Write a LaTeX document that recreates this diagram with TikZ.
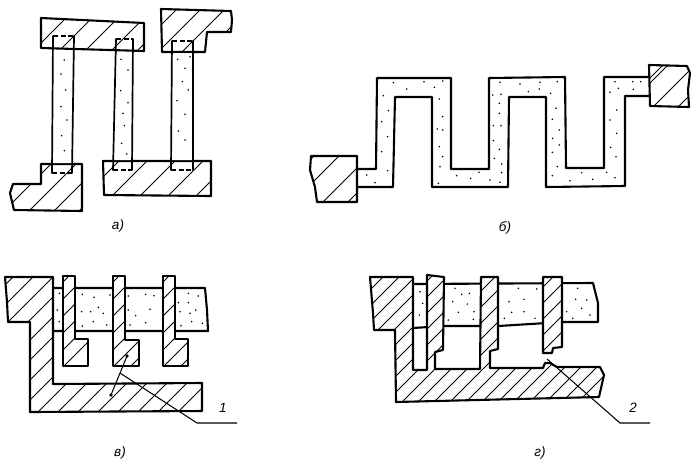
\documentclass[tikz,border=0pt]{standalone}
\usepackage{fontspec}
\setmainfont{Liberation Sans}
\tikzset{
  outline/.style={line width=2.1pt,line join=round,line cap=round},
  thinline/.style={line width=1.7pt,line join=round,line cap=round},
  hatchline/.style={line width=0.9pt},
  leader/.style={line width=1.05pt},
  dashpart/.style={line width=2pt,dash pattern=on 5pt off 2.5pt},
  lab/.style={font=\itshape\fontsize{13.5}{15}\selectfont,inner sep=0pt}
}
\newcommand\hatchpath[2]{%
  \fill[white] #1;
  \begin{scope}\clip #1;
    \foreach \c in {#2} \draw[hatchline] (\c,0)--(0,\c);
  \end{scope}
  \draw[outline] #1;}
\newcommand\stip[3]{\foreach \px/\py in {#3} \fill ({#1+\px/3},{#2+\py/3}) circle (0.85pt);}
\begin{document}
\begin{tikzpicture}[x=1pt,y=-1pt]
\useasboundingbox (0,0) rectangle (698,467);
\fill[white] (0,0) rectangle (698,467);
% --- panel a
\hatchpath{(41,18)--(144,23)--(144,51)--(41,48)--cycle}{84,110,136,162,188}
\hatchpath{(161,9)--(231,11)--(232,20)--(231,32)--(207,32)--(205,52)--(162,52)--cycle}{186,210,234,258}
\hatchpath{(41,164)--(82,164)--(82,211)--(14,210)--(10,193)--(13,184)--(41,184)--cycle}{215,240,265,290}
\hatchpath{(103,161)--(211,161)--(211,196)--(104,195)--cycle}{280,308,336,364,392}
\fill[white] (53,50)--(74,50)--(72,163)--(52,163)--cycle;
\fill[white] (116,52)--(133,52)--(132,160)--(113,160)--cycle;
\fill[white] (172,53)--(193,53)--(193,160)--(171,160)--cycle;
\draw[thinline] (53,36)--(52,173) (74,36)--(72,173);
\draw[thinline] (116,39)--(113,170) (133,39)--(132,170);
\draw[thinline] (172,41)--(171,170) (193,41)--(193,170);
\draw[dashpart] (53,36)--(74,36) (52,173)--(72,173);
\draw[dashpart] (116,39)--(133,39) (113,170)--(132,170);
\draw[dashpart] (172,41)--(193,41) (171,170)--(193,170);
\stip{0}{0}{193/180,183/222,197/270,183/320,201/360,185/407,193/452,363/178,384/210,362/272,384/308,369/340,373/377,365/430,380/462,533/178,570/170,555/205,547/245,565/270,531/302,555/343,535/393,555/420}
\node[lab] (la) at (118,226) {а)};
% --- panel b
\hatchpath{(311,156)--(357,156)--(357,202)--(317,202)--(315,187)--(310,170)--cycle}{470,495,525,550}
\hatchpath{(649,65)--(687,66)--(690,73)--(688,90)--(689,107)--(650,106)--cycle}{728,733,760,785}
\draw[outline] (357,169)--(376,169)--(377,78)--(451,78)--(451,169)--(489,169)--(489,78)--(565,77)--(566,168)--(604,168)--(604,77)--(649,77);
\draw[outline] (357,187)--(393,187)--(395,97)--(432,97)--(432,187)--(508,187)--(509,97)--(546,97)--(546,187)--(625,186)--(625,96)--(649,96);
\stip{300}{50}{280/98,372/95,403/112,428/93,320/117,250/137,418/147,265/182,428/200,245/215,412/237,428/240,263/260,418/290,245/305,428/320,263/362,420/350,200/375,225/398,415/400,470/377,512/385,537/367,570/390,605/342,605/368,600/397,600/97,660/102,720/97,772/95,718/117,685/125,752/130,578/135,603/133,598/160,598/190,580/227,603/227,580/272,598/298,583/325,768/175,757/208,778/240,758/265,778/285,757/307,772/350,757/377,810/392,845/368,878/388,920/367,945/383,945/95,998/95,1022/95,955/115,1000/118,930/127,950/180,930/210,950/250,932/292,948/320}
\node[lab] (lb) at (505,228) {б)};
% --- panel v
\draw[outline] (53,288)--(205,288)--(207,310)--(208,331)--(53,331);
\stip{0}{260}{178/100,172/150,178/185,247/103,282/112,330/105,245/155,272/155,310/160,295/142,247/198,280/185,320/195,385/108,437/103,462/107,450/148,385/150,407/167,390/195,437/188,565/100,595/108,535/128,565/128,587/150,540/155,570/160,607/190,543/197,575/185}
\hatchpath{(5,277)--(53,277)--(53,384)--(202,383)--(202,411)--(30,412)--(30,322)--(8,322)--(7,302)--cycle}{290,310,330,350,370,390,410,430,450,470,490,510,530,550,570,590}
\hatchpath{(63,276)--(75,276)--(75,339)--(88,339)--(88,366)--(63,366)--cycle}{345,362,379,396,413,430}
\hatchpath{(113,276)--(125,276)--(125,340)--(139,340)--(139,366)--(113,366)--cycle}{395,412,429,446,463,480,497}
\hatchpath{(163,276)--(175,276)--(175,339)--(188,339)--(188,366)--(163,366)--cycle}{445,462,479,496,513,530,547}
\coordinate (v1) at (127,356);
\coordinate (v2) at (111,395);
\draw[leader] (v1)--(v2);
\fill (v1) circle (1.8pt) (v2) circle (1.8pt);
\coordinate (v3) at (120,373);
\coordinate (v4) at (197,423);
\coordinate (v5) at (237,423);
\draw[leader] (v3)--(v4)--(v5);
\node[lab] (n1) at (223,408) {1};
\node[lab] (lv) at (120,453) {в)};
% --- panel g
\draw[outline] (413,284)--(593,283)--(598,303)--(598,322)--(563,322)--(498,326)--(444,326)--(413,328);
\stip{350}{260}{210/95,218/130,208/165,315/85,335/103,358/100,308/125,352/132,372/155,325/157,295/180,370/178,505/85,560/87,477/125,522/118,485/157,522/155,555/175,463/175,683/85,677/118,710/120,695/145,650/155,720/165,668/175}
\hatchpath{(370,277)--(413,277)--(413,370)--(427,370)--(427,275)--(444,277)--(443,350)--(435,352)--(435,369)--(480,369)--(481,277)--(498,277)--(498,349)--(490,351)--(490,368)--(543,368)--(545,363)--(550,363)--(557,367)--(600,367)--(604,375)--(599,397)--(396,402)--(395,330)--(374,330)--(373,313)--cycle}{660,676,692,708,724,740,756,772,788,804,820,836,852,868,884,900,916,932,948,964,980,996,1012}
\hatchpath{(543,277)--(562,277)--(562,347)--(553,348)--(552,353)--(543,353)--cycle}{830,846,862,878,894,910}
\coordinate (g1) at (547,359);
\coordinate (g2) at (620,423);
\coordinate (g3) at (650,423);
\draw[leader] (g1)--(g2)--(g3);
\node[lab] (n2) at (633,408) {2};
\node[lab] (lg) at (540,453) {г)};
\end{tikzpicture}
\end{document}
